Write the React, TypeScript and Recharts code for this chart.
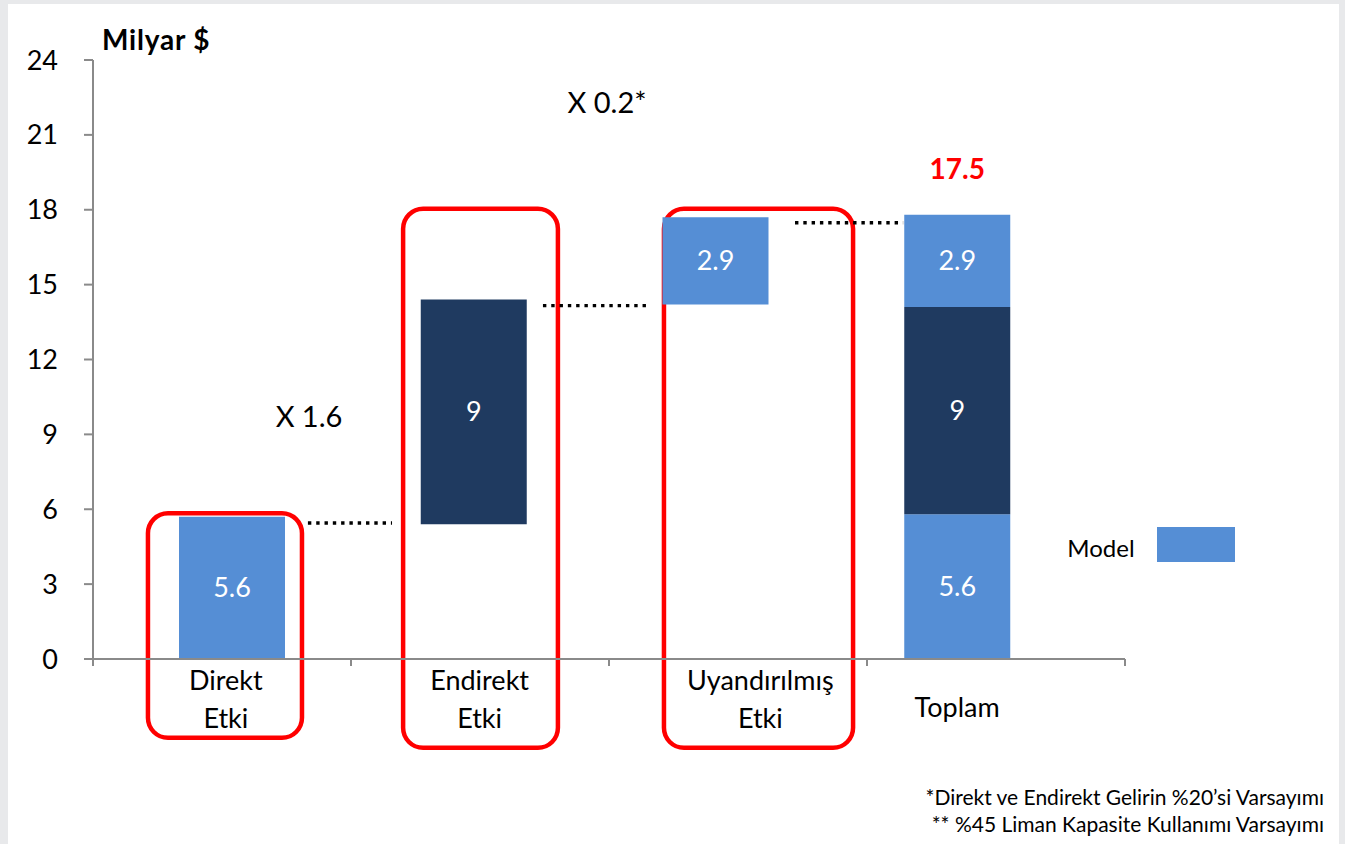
import React from 'react';
import { ComposedChart, Bar, XAxis, YAxis, ReferenceLine, ReferenceArea, LabelList } from 'recharts';

// ---- data ----
const categories = ['Direkt\nEtki', 'Endirekt\nEtki', 'Uyandırılmış\nEtki', 'Toplam'];
const baseValues = [0, 5.4, 14.2, 0];          // invisible offset of floating bars
const directValues = [5.7, 0, 0, 5.8];          // light blue (direkt)
const indirectValues = [0, 9.0, 0, 8.3];        // dark blue (endirekt)
const inducedValues = [0, 0, 3.5, 3.7];         // light blue (uyandırılmış)
const directLabels = ['5.6', '', '', '5.6'];
const indirectLabels = ['', '9', '', '9'];
const inducedLabels = ['', '', '2.9', '2.9'];
const totalLabels = ['', '', '', '17.5'];
const slotEdges = [1, 2, 3, 4];                 // right edge of each category slot on the axis
const yTicks = [0, 3, 6, 9, 12, 15, 18, 21, 24];
const slotTicks = [0, 1, 2, 3, 4];

// text layout: horizontal nudge of each category label (px)
const labelShift = [-6, 6, 45, 0];

// annotation shapes (in axis units)
const frames = [
  { x1: 0.213, x2: 0.81, y1: -3.16, y2: 5.84 },
  { x1: 1.202, x2: 1.802, y1: -3.56, y2: 18.04 },
  { x1: 2.213, x2: 2.946, y1: -3.56, y2: 18.04 },
];
const connectors = [
  { x1: 0.833, x2: 1.159, y: 5.45 },
  { x1: 1.744, x2: 2.159, y: 14.16 },
  { x1: 2.721, x2: 3.14, y: 17.48 },
];

const LIGHT = '#558ed5';
const DARK = '#1f3a60';
const AXIS = '#8a8a8a';

const data = categories.map((name, i) => ({
  name,
  slotEdge: slotEdges[i],
  base: baseValues[i],
  direct: directValues[i],
  indirect: indirectValues[i],
  induced: inducedValues[i],
  directLabel: directLabels[i],
  indirectLabel: indirectLabels[i],
  inducedLabel: inducedLabels[i],
  totalLabel: totalLabels[i],
}));

const CategoryTick = (props: any) => {
  const { x, y, payload, index } = props;
  const lines = String(payload.value).split('\n');
  const cx = x + (labelShift[index] || 0);
  return (
    <text x={cx} y={y} textAnchor="middle" fill="#000" fontSize={27}>
      {lines.length === 1 ? (
        <tspan x={cx} dy={57}>{lines[0]}</tspan>
      ) : (
        lines.map((l, i) => (
          <tspan key={i} x={cx} dy={i === 0 ? 30 : 38}>{l}</tspan>
        ))
      )}
    </text>
  );
};

const FrameShape = (props: any) => {
  const { x, y, width, height } = props;
  return <rect x={x} y={y} width={width} height={height} rx={20} ry={20} fill="none" stroke="#ff0000" strokeWidth={4.5} />;
};

export default function App() {
  return (
    <div style={{ position: 'fixed', left: 0, top: 0, width: 1345, height: 844, background: '#e8e9eb', fontFamily: 'Lato, "Open Sans", sans-serif' }}>
      <div style={{ position: 'absolute', left: 8, top: 4, width: 1331, height: 840, background: '#ffffff' }} />
      <div style={{ position: 'absolute', left: 0, top: 0 }}>
        <ComposedChart width={1345} height={844} data={data} margin={{ top: 60, right: 220, bottom: 84, left: 0 }}>
          <XAxis xAxisId="b" dataKey="name" type="category" height={100} padding={{ left: 18, right: 47 }}
            axisLine={false} tickLine={false} tickSize={0} tickMargin={0} interval={0} tick={<CategoryTick />} />
          <XAxis xAxisId="a" type="number" dataKey="slotEdge" domain={[0, 4]} ticks={slotTicks} height={1}
            axisLine={{ stroke: AXIS, strokeWidth: 2 }} tickLine={{ stroke: AXIS, strokeWidth: 2 }} tickSize={7}
            tickFormatter={() => ''} allowDataOverflow />
          <YAxis domain={[0, 24]} ticks={yTicks} width={93} interval={0}
            axisLine={{ stroke: AXIS, strokeWidth: 2 }} tickLine={{ stroke: AXIS, strokeWidth: 2 }} tickSize={9} tickMargin={26}
            tick={{ fill: '#000', fontSize: 27 }} />
          {frames.map((f, i) => (
            <ReferenceArea key={'f' + i} xAxisId="a" x1={f.x1} x2={f.x2} y1={f.y1} y2={f.y2} ifOverflow="visible" shape={<FrameShape />} />
          ))}
          {connectors.map((c, i) => (
            <ReferenceLine key={'c' + i} xAxisId="a" segment={[{ x: c.x1, y: c.y }, { x: c.x2, y: c.y }]}
              stroke="#000" strokeWidth={3.4} strokeDasharray="3.4 4.9" ifOverflow="visible" />
          ))}
          <Bar xAxisId="b" dataKey="base" stackId="s" fill="transparent" barSize={106} isAnimationActive={false} />
          <Bar xAxisId="b" dataKey="direct" stackId="s" fill={LIGHT} barSize={106} isAnimationActive={false}>
            <LabelList dataKey="directLabel" position="center" fill="#fff" fontSize={27} />
          </Bar>
          <Bar xAxisId="b" dataKey="indirect" stackId="s" fill={DARK} barSize={106} isAnimationActive={false}>
            <LabelList dataKey="indirectLabel" position="center" fill="#fff" fontSize={27} />
          </Bar>
          <Bar xAxisId="b" dataKey="induced" stackId="s" fill={LIGHT} barSize={106} isAnimationActive={false}>
            <LabelList dataKey="inducedLabel" position="center" fill="#fff" fontSize={27} />
            <LabelList dataKey="totalLabel" position="top" offset={36} fill="#ff0000" fontSize={28} fontWeight="bold" />
          </Bar>
        </ComposedChart>
      </div>
      <svg width={1345} height={844} style={{ position: 'absolute', left: 0, top: 0, pointerEvents: 'none' }}>
        <text x={102} y={50} fontSize={28} fontWeight="bold" fill="#000" letterSpacing={0.8}>Milyar $</text>
        <text x={309} y={427} fontSize={29} textAnchor="middle" fill="#000">X 1.6</text>
        <text x={607} y={113} fontSize={29} textAnchor="middle" fill="#000">X 0.2*</text>
        <text x={1101} y={557} fontSize={24} textAnchor="middle" fill="#000">Model</text>
        <rect x={1157} y={527} width={78} height={35} fill={LIGHT} />
        <text x={1324} y={805} fontSize={21} textAnchor="end" fill="#000">*Direkt ve Endirekt Gelirin %20’si Varsayımı</text>
        <text x={1324} y={832} fontSize={21} textAnchor="end" fill="#000">** %45 Liman Kapasite Kullanımı Varsayımı</text>
      </svg>
    </div>
  );
}
